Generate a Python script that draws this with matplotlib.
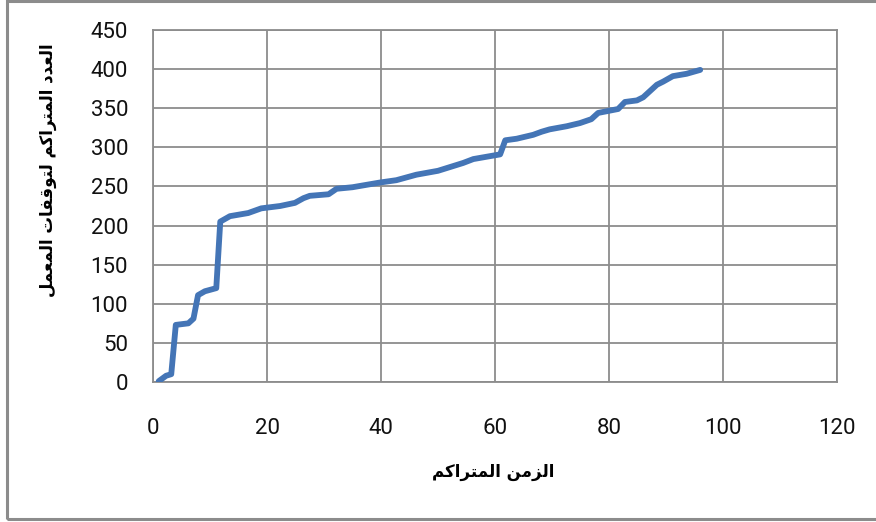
import matplotlib
matplotlib.use("Agg")
import matplotlib.pyplot as plt
from matplotlib.patches import Rectangle

# cumulative time vs cumulative number of plant stoppages
cum_time = [1, 2.3, 3.2, 4, 6.2, 7.1, 7.9, 9.1, 11.1, 11.8, 13.5, 16.7, 19,
            22.3, 24.9, 26.4, 27.5, 30.8, 32.2, 35, 39.8, 42.7, 46.2, 50,
            54.4, 56.2, 60.9, 61.8, 63.8, 66.7, 68.2, 69.6, 72.6, 74.9, 76.9,
            78.1, 81.6, 82.8, 84.9, 86, 88.4, 89.5, 91.2, 93.6, 96]
cum_stops = [1, 8, 10, 73, 75, 81, 111, 116, 120, 205, 212, 216, 222,
             225, 229, 235, 238, 240, 247, 249, 255, 258, 265, 270,
             280, 285, 291, 309, 311, 316, 320, 323, 327, 331, 336,
             344, 349, 358, 360, 364, 380, 384, 391, 394, 399]

x_ticks = [0, 20, 40, 60, 80, 100, 120]
y_ticks = [0, 50, 100, 150, 200, 250, 300, 350, 400, 450]

x_title = "الزمن المتراكم"
y_title = "العدد المتراكم لتوقفات المعمل"

# contextual forms (isolated, final, initial, medial); None = no left join
FORMS = {
    "ا": ("\uFE8D", "\uFE8E", None, None),
    "ل": ("\uFEDD", "\uFEDE", "\uFEDF", "\uFEE0"),
    "ز": ("\uFEAF", "\uFEB0", None, None),
    "م": ("\uFEE1", "\uFEE2", "\uFEE3", "\uFEE4"),
    "ن": ("\uFEE5", "\uFEE6", "\uFEE7", "\uFEE8"),
    "ت": ("\uFE95", "\uFE96", "\uFE97", "\uFE98"),
    "ر": ("\uFEAD", "\uFEAE", None, None),
    "ك": ("\uFED9", "\uFEDA", "\uFEDB", "\uFEDC"),
    "ع": ("\uFEC9", "\uFECA", "\uFECB", "\uFECC"),
    "د": ("\uFEA9", "\uFEAA", None, None),
    "و": ("\uFEED", "\uFEEE", None, None),
    "ق": ("\uFED5", "\uFED6", "\uFED7", "\uFED8"),
    "ف": ("\uFED1", "\uFED2", "\uFED3", "\uFED4"),
}


def shape_ar(text):
    out = []
    for i, ch in enumerate(text):
        if ch not in FORMS:
            out.append(ch)
            continue
        prev = text[i - 1] if i > 0 else ""
        nxt = text[i + 1] if i + 1 < len(text) else ""
        iso, fin, ini, med = FORMS[ch]
        jp = prev in FORMS and FORMS[prev][2] is not None
        jn = nxt in FORMS and ini is not None
        if jp and jn:
            out.append(med)
        elif jp:
            out.append(fin)
        elif jn:
            out.append(ini)
        else:
            out.append(iso)
    return "".join(reversed(out))


plt.rcParams["font.family"] = ["Roboto", "DejaVu Sans"]

fig = plt.figure(figsize=(8.76, 5.22), dpi=100)
ax = fig.add_axes([153 / 876, 1 - 382 / 522, 684 / 876, 352 / 522])

grid_c = "#8c8c8c"
ax.plot(cum_time, cum_stops, color="#4475b6", lw=4.2,
        solid_capstyle="round", solid_joinstyle="round", zorder=3)

ax.set_xlim(0, 120)
ax.set_ylim(0, 450)
ax.set_xticks(x_ticks)
ax.set_yticks(y_ticks)
ax.grid(True, color=grid_c, lw=1.3)
ax.set_axisbelow(True)
for s in ax.spines.values():
    s.set_color(grid_c)
    s.set_linewidth(1.3)
ax.tick_params(axis="both", length=0, labelsize=16, colors="#111111")
ax.tick_params(axis="x", pad=26)
ax.tick_params(axis="y", pad=18)

fig.text(493 / 876, 1 - 472 / 522, shape_ar(x_title), family="DejaVu Sans",
         weight="bold", fontsize=12, ha="center", va="center")
fig.text(48 / 876, 1 - 170 / 522, shape_ar(y_title), family="DejaVu Sans",
         weight="bold", fontsize=12, ha="center", va="center", rotation=90)

# outer chart border
fig.patches.append(Rectangle((7 / 876, 3 / 522), 1.2, 1 - 4 / 522,
                             transform=fig.transFigure, fill=False,
                             edgecolor=grid_c, lw=2.2, clip_on=False))

fig.savefig("out.png", dpi=100)
